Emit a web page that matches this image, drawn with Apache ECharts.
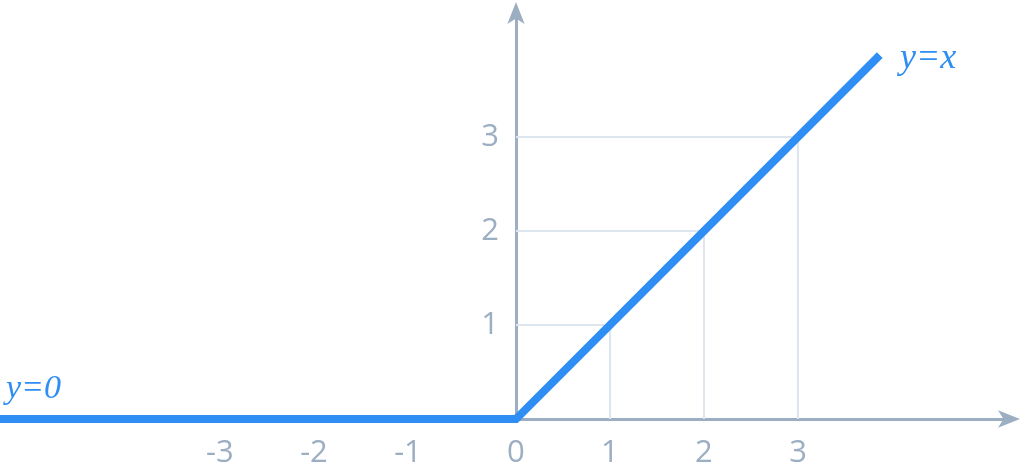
<!DOCTYPE html>
<html>
<head>
<meta charset="utf-8">
<script src="https://cdn.jsdelivr.net/npm/echarts@6/dist/echarts.min.js"></script>
<style>
html,body{margin:0;padding:0;background:#fff;}
#chart{width:1024px;height:466px;}
</style>
</head>
<body>
<div id="chart"></div>
<script>
// ReLU: y = max(0, x)
const reluX = [-5.49, 0, 3.87];
const reluY = [0, 0, 3.87];
const xTicks = [-3, -2, -1, 0, 1, 2, 3];
const yTicks = [1, 2, 3];
const guideValues = [1, 2, 3];
const labelLeft = 'y=0';
const labelRight = 'y=x';

const blue = '#2f8ef4';
const axisColor = '#9caec2';
const guideColor = '#dde5ee';
const tickFont = '"Open Sans", "Liberation Sans", Arial, sans-serif';
const tickSize = 31;

const gridLeft = 0;
const xMin = -5.489, xMax = 5.266;
const chartWidth = 1024, gridRight = 13;
// place the y axis where x = 0 falls on the x scale
const yAxisOffset = -((0 - xMin) / (xMax - xMin)) * (chartWidth - gridLeft - gridRight);

const guideSeries = guideValues.map(k => ({
  type: 'line',
  data: [[0, k], [k, k], [k, 0]],
  symbol: 'none',
  silent: true,
  z: 1,
  lineStyle: { color: guideColor, width: 2 }
}));

const chart = echarts.init(document.getElementById('chart'), null, { renderer: 'canvas' });
chart.setOption({
  animation: false,
  backgroundColor: '#ffffff',
  grid: { left: gridLeft, right: gridRight, top: 11, bottom: 47, containLabel: false, outerBoundsMode: 'none' },
  xAxis: {
    type: 'value',
    min: xMin,
    max: xMax,
    axisLine: { onZero: false, lineStyle: { color: axisColor, width: 3 }, symbol: ['none', 'arrow'], symbolSize: [13, 22], symbolOffset: [0, 9] },
    axisTick: { show: false },
    splitLine: { show: false },
    axisLabel: {
      customValues: xTicks,
      color: axisColor,
      fontSize: tickSize,
      fontFamily: tickFont,
      margin: 19,
      formatter: v => v < 0 ? '{n|' + v + '}' : '{p|' + v + '}',
      rich: {
        n: { fontSize: tickSize, color: axisColor, fontFamily: tickFont, padding: [0, 28, 0, 0] },
        p: { fontSize: tickSize, color: axisColor, fontFamily: tickFont }
      }
    }
  },
  yAxis: {
    type: 'value',
    min: 0,
    max: 4.34,
    offset: yAxisOffset,
    axisLine: { onZero: false, lineStyle: { color: axisColor, width: 3 }, symbol: ['none', 'arrow'], symbolSize: [13, 22], symbolOffset: [0, 9] },
    axisTick: { show: false },
    splitLine: { show: false },
    axisLabel: {
      customValues: yTicks,
      color: axisColor,
      fontSize: tickSize,
      fontFamily: tickFont,
      margin: 17
    }
  },
  series: guideSeries.concat([{
    type: 'line',
    data: reluX.map((x, i) => [x, reluY[i]]),
    symbol: 'none',
    z: 5,
    clip: false,
    lineStyle: { color: blue, width: 8, join: 'miter' }
  }]),
  graphic: [
    { type: 'text', left: 900, top: 41, style: { text: labelRight, fill: blue, font: 'italic 36px "Liberation Serif", "DejaVu Serif", serif' } },
    { type: 'text', left: 6, top: 372, style: { text: labelLeft, fill: blue, font: 'italic 34px "Liberation Serif", "DejaVu Serif", serif' } }
  ]
});
</script>
</body>
</html>
